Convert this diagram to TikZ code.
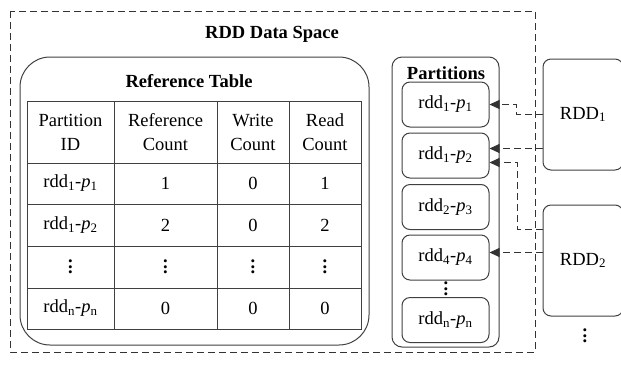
\documentclass[tikz,border=0pt]{standalone}
\usepackage{fontspec}
\setmainfont{Liberation Serif}
\usetikzlibrary{arrows.meta}
\newcommand{\rp}[2]{rdd\textsubscript{#1}-\textit{p}\textsubscript{#2}}
\newcommand{\pts}{\vbox{\baselineskip=5.5pt\lineskiplimit=0pt\hbox{\textbf{.}}\hbox{\textbf{.}}\hbox{\textbf{.}}}}
\tikzset{
  cadre/.style={draw=black!75, line width=1pt, rounded corners=8pt},
  part/.style={cadre, minimum width=87pt, minimum height=45pt, inner sep=0pt},
  rddbox/.style={cadre, minimum width=80pt, minimum height=111pt, inner sep=0pt},
  lien/.style={draw=black!80, line width=1pt, dash pattern=on 7pt off 4pt, -{Triangle[length=10pt,width=9pt]}},
  cell/.style={align=center, inner sep=1pt}
}
\begin{document}
\begin{tikzpicture}[x=1pt,y=-1pt,font=\fontsize{18.5}{24}\selectfont]
  \useasboundingbox (0,0) rectangle (621,365);
  \draw[black!80, line width=1pt, dash pattern=on 7pt off 4pt] (10,11) rectangle (535,352); %Espace RDD
  \node (titre) at (272,34) {\textbf{RDD Data Space}};
  \draw[black!75, line width=1pt, rounded corners=30pt] (20,57) rectangle (369,345); %Table
  \node (ttab) at (189,81) {\textbf{Reference Table}};
  \draw[black!75, line width=1pt] (27,101) rectangle (361,329);
  \draw[black!75, line width=1pt] (27,163) -- (361,163) (27,204) -- (361,204) (27,246) -- (361,246) (27,288) -- (361,288);
  \draw[black!75, line width=1pt] (114,101) -- (114,329) (217,101) -- (217,329) (289,101) -- (289,329);
  \node[cell] (h1) at (70.5,132) {Partition\\ID};
  \node[cell] (h2) at (165.5,132) {Reference\\Count};
  \node[cell] (h3) at (253,132) {Write\\Count};
  \node[cell] (h4) at (325,132) {Read\\Count};
  \node[cell] (a1) at (70.5,183.5) {\rp{1}{1}};
  \node[cell] (a2) at (165.5,183.5) {1};
  \node[cell] (a3) at (253,183.5) {0};
  \node[cell] (a4) at (325,183.5) {1};
  \node[cell] (b1) at (70.5,225) {\rp{1}{2}};
  \node[cell] (b2) at (165.5,225) {2};
  \node[cell] (b3) at (253,225) {0};
  \node[cell] (b4) at (325,225) {2};
  \node[cell] (c1) at (70.5,267) {\pts};
  \node[cell] (c2) at (165.5,267) {\pts};
  \node[cell] (c3) at (253,267) {\pts};
  \node[cell] (c4) at (325,267) {\pts};
  \node[cell] (d1) at (70.5,308.5) {\rp{n}{n}};
  \node[cell] (d2) at (165.5,308.5) {0};
  \node[cell] (d3) at (253,308.5) {0};
  \node[cell] (d4) at (325,308.5) {0};
  \draw[black!75, line width=1pt, rounded corners=10pt] (392,57) rectangle (499,347); %Partitions
  \node (tpart) at (446,73) {\textbf{Partitions}};
  \node[part] (p1) at (445.5,104.5) {\rp{1}{1}};
  \node[part] (p2) at (445.5,155.5) {\rp{1}{2}};
  \node[part] (p3) at (445.5,207) {\rp{2}{3}};
  \node[part] (p4) at (445.5,257.5) {\rp{4}{4}};
  \node[inner sep=0pt] (pdots) at (446,289) {\pts};
  \node[part] (pn) at (445.5,320) {\rp{n}{n}};
  \node[rddbox] (r1) at (583,114.5) {RDD\textsubscript{1}};
  \node[rddbox] (r2) at (583,260.5) {RDD\textsubscript{2}};
  \node (rdots) at (585,336) {\pts};
  \draw[lien] (r1.west) -- ++(-26,0) |- (p1.east);
  \draw[lien] ([yshift=7pt]p2.east -| r1.west) -- ([yshift=7pt]p2.east);
  \draw[lien] ([yshift=31pt]r2.west) -- ++(-25,0) |- ([yshift=-7pt]p2.east);
  \draw[lien] ([yshift=5pt]p4.east -| r2.west) -- ([yshift=5pt]p4.east);
\end{tikzpicture}
\end{document}
